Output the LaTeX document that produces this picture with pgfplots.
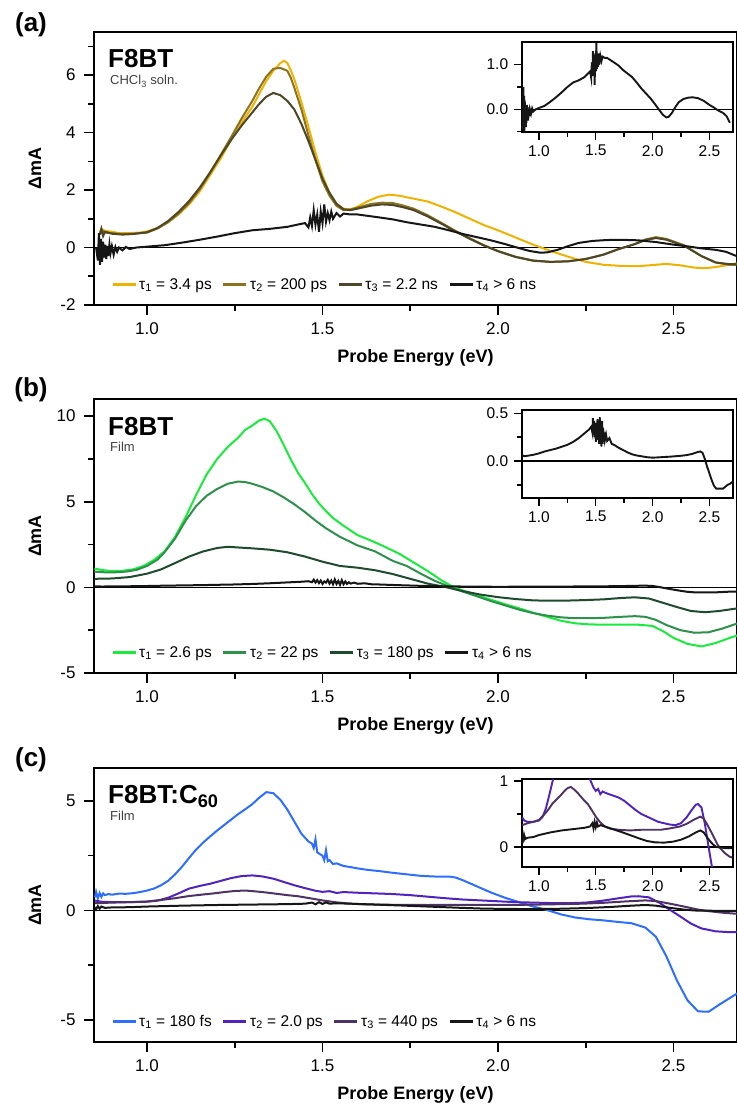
\documentclass[border=0pt]{standalone}
\usepackage{pgfplots}
\pgfplotsset{compat=1.18}
\usepackage{pgfplotstable}
\usepackage{fontspec}
\setmainfont{Liberation Sans}

\definecolor{aone}{RGB}{240,178,0}
\definecolor{atwo}{RGB}{139,116,32}
\definecolor{athree}{RGB}{78,70,40}
\definecolor{blk}{RGB}{22,22,22}
\definecolor{bone}{RGB}{25,235,60}
\definecolor{btwo}{RGB}{45,145,75}
\definecolor{bthree}{RGB}{30,75,45}
\definecolor{cone}{RGB}{45,110,255}
\definecolor{ctwo}{RGB}{80,35,190}
\definecolor{cthree}{RGB}{78,50,100}

% ---------------- panel (a) ----------------
\pgfplotstableread{
x y
0.866 0.55
0.870 0.65
0.880 0.58
0.900 0.55
0.920 0.50
0.950 0.50
0.980 0.52
1.000 0.56
1.030 0.68
1.060 0.88
1.090 1.15
1.120 1.50
1.150 1.95
1.180 2.52
1.210 3.10
1.240 3.75
1.270 4.35
1.300 4.90
1.320 5.35
1.340 5.80
1.360 6.15
1.380 6.42
1.390 6.50
1.400 6.42
1.410 6.15
1.420 5.85
1.440 5.05
1.460 4.20
1.480 3.30
1.500 2.50
1.520 1.90
1.540 1.52
1.560 1.35
1.580 1.33
1.600 1.42
1.630 1.62
1.660 1.77
1.690 1.84
1.720 1.80
1.760 1.70
1.800 1.60
1.840 1.42
1.880 1.22
1.920 1.00
1.960 0.78
2.000 0.60
2.050 0.35
2.100 0.10
2.150 -0.12
2.200 -0.32
2.250 -0.50
2.300 -0.60
2.350 -0.64
2.400 -0.65
2.450 -0.60
2.480 -0.57
2.520 -0.62
2.560 -0.70
2.590 -0.72
2.620 -0.68
2.650 -0.62
2.680 -0.55
}\Aone

\pgfplotstableread{
x y
0.866 0.50
0.870 0.62
0.880 0.52
0.900 0.50
0.930 0.47
0.960 0.48
1.000 0.52
1.030 0.66
1.060 0.88
1.090 1.18
1.120 1.55
1.150 2.02
1.180 2.60
1.210 3.22
1.240 3.85
1.270 4.50
1.300 5.10
1.320 5.55
1.340 5.95
1.360 6.22
1.380 6.25
1.400 6.15
1.410 5.90
1.420 5.55
1.440 4.80
1.460 3.90
1.480 3.05
1.500 2.30
1.520 1.80
1.540 1.45
1.560 1.30
1.580 1.32
1.610 1.42
1.640 1.52
1.670 1.56
1.700 1.55
1.730 1.46
1.760 1.35
1.800 1.12
1.840 0.85
1.880 0.57
1.920 0.32
1.960 0.08
2.000 -0.12
2.050 -0.32
2.100 -0.45
2.150 -0.50
2.200 -0.48
2.250 -0.40
2.300 -0.25
2.340 -0.07
2.390 0.12
2.420 0.28
2.450 0.36
2.480 0.30
2.530 0.08
2.580 -0.30
2.620 -0.52
2.660 -0.60
2.680 -0.60
}\Atwo

\pgfplotstableread{
x y
0.866 0.45
0.870 0.65
0.875 0.40
0.880 0.55
0.900 0.48
0.930 0.45
0.960 0.47
1.000 0.53
1.030 0.68
1.060 0.92
1.090 1.24
1.120 1.62
1.150 2.08
1.180 2.62
1.210 3.20
1.240 3.75
1.270 4.25
1.300 4.70
1.320 5.00
1.340 5.25
1.360 5.38
1.380 5.30
1.400 5.10
1.420 4.80
1.440 4.30
1.460 3.70
1.480 3.05
1.500 2.40
1.520 1.90
1.540 1.52
1.560 1.33
1.580 1.30
1.610 1.38
1.640 1.46
1.670 1.50
1.700 1.48
1.730 1.40
1.760 1.30
1.800 1.08
1.840 0.82
1.880 0.55
1.920 0.30
1.960 0.07
2.000 -0.13
2.050 -0.33
2.100 -0.46
2.150 -0.50
2.200 -0.48
2.250 -0.40
2.300 -0.25
2.340 -0.07
2.390 0.12
2.420 0.26
2.450 0.33
2.480 0.27
2.530 0.06
2.580 -0.30
2.620 -0.52
2.660 -0.58
2.680 -0.58
}\Athree

\pgfplotstableread{
x y
0.855 0.00
0.860 -0.45
0.863 0.50
0.866 -0.60
0.869 0.30
0.872 -0.50
0.875 0.20
0.878 -0.35
0.881 0.10
0.884 -0.40
0.887 0.05
0.890 -0.30
0.893 0.10
0.896 -0.20
0.900 0.05
0.905 -0.25
0.910 0.02
0.915 -0.15
0.920 0.00
0.930 -0.10
0.940 0.02
0.950 -0.05
0.970 0.00
1.000 0.03
1.050 0.08
1.100 0.17
1.150 0.27
1.200 0.38
1.250 0.50
1.300 0.60
1.350 0.65
1.400 0.72
1.430 0.80
1.450 0.85
1.460 0.70
1.465 1.05
1.470 0.75
1.475 1.30
1.480 0.80
1.485 1.15
1.490 0.55
1.495 1.25
1.500 0.85
1.505 1.50
1.510 0.90
1.515 1.20
1.520 0.95
1.525 1.25
1.530 1.00
1.540 1.20
1.550 1.08
1.560 1.18
1.580 1.15
1.600 1.15
1.630 1.10
1.660 1.05
1.700 0.98
1.740 0.88
1.780 0.80
1.820 0.72
1.860 0.60
1.900 0.47
1.940 0.36
1.980 0.25
2.020 0.12
2.060 -0.02
2.090 -0.12
2.120 -0.18
2.140 -0.17
2.170 -0.08
2.200 0.05
2.230 0.16
2.270 0.23
2.310 0.26
2.350 0.27
2.400 0.25
2.450 0.19
2.500 0.10
2.540 0.04
2.580 -0.03
2.620 -0.08
2.650 -0.15
2.670 -0.25
2.680 -0.30
}\Afour

% ---------------- panel (b) ----------------
\pgfplotstableread{
x y
0.850 1.10
0.870 1.02
0.900 0.95
0.930 0.97
0.960 1.05
0.990 1.25
1.020 1.60
1.050 2.10
1.080 2.95
1.110 4.10
1.140 5.40
1.170 6.60
1.200 7.50
1.230 8.20
1.260 8.75
1.280 9.20
1.300 9.45
1.320 9.75
1.335 9.85
1.350 9.70
1.370 9.10
1.390 8.30
1.410 7.45
1.430 6.70
1.450 6.10
1.470 5.45
1.490 4.90
1.510 4.45
1.530 4.05
1.560 3.60
1.600 3.05
1.640 2.72
1.680 2.35
1.720 1.95
1.760 1.45
1.800 0.95
1.840 0.40
1.870 0.05
1.900 -0.18
1.940 -0.45
1.980 -0.72
2.020 -0.98
2.060 -1.22
2.100 -1.48
2.140 -1.72
2.180 -1.95
2.220 -2.10
2.260 -2.16
2.300 -2.18
2.350 -2.18
2.400 -2.18
2.440 -2.25
2.470 -2.55
2.500 -2.95
2.540 -3.30
2.580 -3.45
2.620 -3.25
2.660 -2.95
2.690 -2.75
}\Bone

\pgfplotstableread{
x y
0.850 0.92
0.880 0.88
0.910 0.88
0.940 0.92
0.970 1.02
1.000 1.25
1.030 1.62
1.050 2.05
1.080 2.85
1.110 3.90
1.140 4.75
1.170 5.35
1.200 5.75
1.230 6.05
1.260 6.18
1.280 6.15
1.300 6.05
1.330 5.85
1.360 5.60
1.390 5.25
1.420 4.85
1.450 4.40
1.480 3.90
1.510 3.45
1.550 2.95
1.600 2.45
1.650 2.10
1.700 1.55
1.740 1.25
1.780 0.80
1.820 0.38
1.860 0.05
1.900 -0.25
1.940 -0.52
1.980 -0.80
2.020 -1.05
2.060 -1.30
2.100 -1.50
2.140 -1.65
2.180 -1.75
2.220 -1.80
2.260 -1.80
2.300 -1.78
2.350 -1.72
2.390 -1.68
2.420 -1.72
2.450 -1.90
2.480 -2.20
2.520 -2.50
2.560 -2.65
2.600 -2.62
2.640 -2.40
2.690 -2.05
}\Btwo

\pgfplotstableread{
x y
0.850 0.50
0.900 0.52
0.950 0.60
1.000 0.80
1.040 1.05
1.080 1.42
1.120 1.80
1.160 2.10
1.200 2.30
1.230 2.37
1.260 2.33
1.300 2.28
1.350 2.20
1.400 2.05
1.450 1.80
1.500 1.50
1.550 1.25
1.600 1.15
1.650 1.00
1.700 0.78
1.750 0.50
1.800 0.22
1.850 0.02
1.900 -0.22
1.950 -0.42
2.000 -0.57
2.050 -0.68
2.100 -0.76
2.150 -0.78
2.200 -0.77
2.250 -0.74
2.300 -0.70
2.350 -0.62
2.390 -0.58
2.430 -0.65
2.470 -0.90
2.510 -1.15
2.550 -1.38
2.590 -1.45
2.630 -1.38
2.690 -1.20
}\Bthree

\pgfplotstableread{
x y
0.850 0.065
0.870 0.050
0.900 0.055
0.950 0.065
1.000 0.080
1.050 0.100
1.100 0.115
1.150 0.130
1.200 0.150
1.250 0.170
1.300 0.200
1.350 0.240
1.400 0.290
1.440 0.330
1.460 0.360
1.470 0.300
1.475 0.450
1.480 0.280
1.485 0.420
1.490 0.250
1.495 0.400
1.500 0.200
1.505 0.350
1.510 0.280
1.515 0.440
1.520 0.220
1.525 0.400
1.530 0.180
1.535 0.460
1.540 0.200
1.545 0.380
1.550 0.150
1.555 0.420
1.560 0.180
1.565 0.350
1.570 0.200
1.575 0.300
1.580 0.220
1.590 0.280
1.600 0.210
1.620 0.240
1.640 0.180
1.660 0.170
1.700 0.140
1.740 0.115
1.780 0.090
1.820 0.070
1.860 0.058
1.900 0.050
1.950 0.040
2.000 0.035
2.050 0.038
2.100 0.042
2.150 0.045
2.200 0.050
2.250 0.055
2.300 0.062
2.350 0.075
2.400 0.095
2.420 0.100
2.440 0.085
2.460 0.020
2.480 -0.060
2.500 -0.130
2.520 -0.200
2.540 -0.260
2.560 -0.290
2.580 -0.290
2.600 -0.290
2.620 -0.290
2.640 -0.270
2.660 -0.250
2.680 -0.240
2.700 -0.220
}\Bfour

% ---------------- panel (c) ----------------
\pgfplotstableread{
x y
0.852 0.60
0.855 0.85
0.860 0.55
0.865 0.80
0.870 0.62
0.875 0.78
0.880 0.70
0.890 0.75
0.900 0.72
0.920 0.77
0.940 0.76
0.960 0.79
0.980 0.84
1.000 0.91
1.020 1.00
1.040 1.15
1.060 1.35
1.080 1.65
1.100 2.00
1.120 2.40
1.140 2.78
1.160 3.10
1.180 3.38
1.200 3.65
1.220 3.90
1.240 4.15
1.260 4.40
1.280 4.62
1.300 4.85
1.320 5.15
1.340 5.40
1.360 5.35
1.380 5.05
1.400 4.60
1.420 4.05
1.440 3.50
1.460 3.15
1.470 3.05
1.475 2.85
1.480 3.25
1.485 2.65
1.490 2.60
1.500 2.50
1.505 2.30
1.510 2.75
1.515 2.25
1.520 2.30
1.530 2.12
1.540 2.15
1.560 2.03
1.580 1.98
1.600 1.92
1.630 1.85
1.660 1.80
1.700 1.72
1.740 1.65
1.780 1.58
1.820 1.55
1.860 1.55
1.880 1.50
1.900 1.38
1.940 1.10
1.980 0.82
2.020 0.58
2.060 0.38
2.100 0.18
2.140 0.02
2.180 -0.18
2.220 -0.32
2.260 -0.40
2.300 -0.45
2.340 -0.52
2.380 -0.58
2.420 -0.78
2.450 -1.20
2.480 -2.10
2.510 -3.20
2.540 -4.10
2.570 -4.60
2.600 -4.62
2.630 -4.30
2.660 -4.00
2.690 -3.70
}\Cone

\pgfplotstableread{
x y
0.852 0.45
0.870 0.40
0.900 0.38
0.950 0.38
1.000 0.40
1.030 0.45
1.060 0.58
1.090 0.78
1.120 1.00
1.150 1.12
1.180 1.22
1.210 1.35
1.240 1.48
1.270 1.57
1.300 1.60
1.330 1.55
1.360 1.45
1.390 1.30
1.420 1.15
1.450 1.02
1.480 0.90
1.500 0.85
1.520 0.88
1.540 0.80
1.560 0.84
1.600 0.81
1.650 0.78
1.700 0.75
1.750 0.70
1.800 0.63
1.850 0.56
1.900 0.50
1.950 0.46
2.000 0.42
2.050 0.38
2.100 0.36
2.150 0.34
2.200 0.33
2.250 0.36
2.300 0.45
2.340 0.55
2.380 0.64
2.400 0.65
2.430 0.60
2.460 0.35
2.490 0.03
2.520 -0.28
2.550 -0.60
2.580 -0.82
2.620 -0.95
2.660 -0.99
2.700 -0.99
}\Ctwo

\pgfplotstableread{
x y
0.852 0.33
0.900 0.36
0.950 0.38
1.000 0.41
1.040 0.48
1.080 0.56
1.120 0.66
1.160 0.73
1.190 0.78
1.220 0.84
1.250 0.89
1.280 0.91
1.310 0.87
1.340 0.82
1.370 0.76
1.400 0.70
1.430 0.65
1.460 0.57
1.500 0.46
1.540 0.37
1.580 0.31
1.620 0.28
1.700 0.26
1.800 0.25
1.900 0.26
2.000 0.26
2.070 0.26
2.150 0.28
2.240 0.31
2.300 0.35
2.360 0.41
2.420 0.46
2.450 0.43
2.490 0.31
2.530 0.18
2.570 0.04
2.600 -0.03
2.640 -0.10
2.680 -0.15
2.700 -0.16
}\Cthree

\pgfplotstableread{
x y
0.852 0.16
0.855 0.05
0.860 0.20
0.865 0.08
0.870 0.18
0.880 0.12
0.900 0.14
0.950 0.15
1.000 0.18
1.100 0.22
1.200 0.25
1.300 0.27
1.400 0.29
1.450 0.31
1.470 0.36
1.480 0.28
1.490 0.38
1.500 0.30
1.510 0.37
1.520 0.31
1.540 0.33
1.580 0.31
1.650 0.27
1.720 0.23
1.800 0.18
1.880 0.13
1.950 0.09
2.020 0.07
2.100 0.065
2.180 0.08
2.250 0.11
2.320 0.16
2.380 0.22
2.420 0.25
2.450 0.22
2.490 0.12
2.530 0.04
2.560 0.00
2.600 -0.01
2.650 -0.02
2.700 -0.02
}\Cfour

\pgfplotsset{
  mainax/.style={
    scale only axis, width=643pt, anchor=north west,
    xmin=0.849, xmax=2.681,
    axis line style={line width=2pt},
    every tick/.style={line width=1.6pt, black},
    tick align=outside, tick pos=left,
    xtick={1.0,1.5,2.0,2.5}, xticklabels={1.0,1.5,2.0,2.5},
    minor xtick={1.25,1.75,2.25},
    major tick length=10pt, minor tick length=6pt,
    ticklabel style={font=\fontsize{17}{17}\selectfont},
    xticklabel style={yshift=-4pt},
    yticklabel style={xshift=-5pt},
    xlabel={Probe Energy (eV)}, ylabel={ΔmA},
    label style={font=\fontsize{18}{18}\selectfont\bfseries},
    xlabel style={at={(axis description cs:0.5,-0.194)}, anchor=center},
    ylabel style={at={(axis description cs:-0.092,0.5)}, anchor=center},
    legend style={at={(0.022,0.075)}, anchor=west, draw=none, fill=none,
      font=\fontsize{15.5}{15.5}\selectfont, legend columns=4,
      /tikz/every even column/.append style={column sep=8pt},
      nodes={inner xsep=2.5pt, inner ysep=1pt}},
    legend image code/.code={\draw[#1, line width=2.4pt] (0pt,0pt) -- (23pt,0pt);},
    every axis plot/.append style={line width=2pt},
  },
  inax/.style={
    scale only axis, width=211pt, anchor=north west,
    xmin=0.848, xmax=2.705,
    axis background/.style={fill=white},
    axis line style={line width=1.8pt},
    every tick/.style={line width=1.4pt, black},
    tick align=outside, tick pos=left,
    xtick={1.0,1.5,2.0,2.5}, xticklabels={1.0,1.5,2.0,2.5},
    minor xtick={1.25,1.75,2.25},
    major tick length=8pt, minor tick length=5pt,
    ticklabel style={font=\fontsize{15.5}{15.5}\selectfont},
    xticklabel style={yshift=-2pt},
    yticklabel style={xshift=-2pt},
    every axis plot/.append style={line width=1.9pt},
  },
}

\begin{document}
\begin{tikzpicture}
\path[use as bounding box] (0pt,0pt) rectangle (736pt,-1107pt);

% ===== (a) =====
\begin{axis}[mainax, at={(94pt,-32pt)}, height=273pt,
  ymin=-2, ymax=7.5, ytick={-2,0,2,4,6}, yticklabels={-2,0,2,4,6},
  minor ytick={-1,1,3,5,7}]
\addplot[black, line width=1.6pt, forget plot] coordinates {(0.8,0) (2.8,0)};
\addplot[aone] table {\Aone};
\addplot[atwo] table {\Atwo};
\addplot[athree] table {\Athree};
\addplot[blk] table {\Afour};
\legend{τ\textsubscript{1} = 3.4 ps, τ\textsubscript{2} = 200 ps, τ\textsubscript{3} = 2.2 ns, τ\textsubscript{4} > 6 ns}
\end{axis}
\begin{axis}[inax, at={(521.7pt,-42.3pt)}, height=89.4pt,
  ymin=-0.5, ymax=1.5, ytick={0,1}, yticklabels={0.0,1.0}, minor ytick={-0.5,0.5}]
\addplot[black, line width=1.5pt] coordinates {(0.8,0) (2.8,0)};
\addplot[blk] table {\Afour};
\end{axis}

% ===== (b) =====
\begin{axis}[mainax, at={(94pt,-399pt)}, height=274pt,
  ymin=-5, ymax=11, ytick={-5,0,5,10}, yticklabels={-5,0,5,10},
  minor ytick={-2.5,2.5,7.5}]
\addplot[black, line width=1.6pt, forget plot] coordinates {(0.8,0) (2.8,0)};
\addplot[bone] table {\Bone};
\addplot[btwo] table {\Btwo};
\addplot[bthree] table {\Bthree};
\addplot[blk] table {\Bfour};
\legend{τ\textsubscript{1} = 2.6 ps, τ\textsubscript{2} = 22 ps, τ\textsubscript{3} = 180 ps, τ\textsubscript{4} > 6 ns}
\end{axis}
\begin{axis}[inax, at={(521.7pt,-410pt)}, height=87.7pt,
  ymin=-0.385, ymax=0.535, ytick={0,0.5}, yticklabels={0.0,0.5}, minor ytick={-0.25,0.25}]
\addplot[black, line width=1.5pt] coordinates {(0.8,0) (2.8,0)};
\addplot[blk] table {\Bfour};
\end{axis}

% ===== (c) =====
\begin{axis}[mainax, at={(94pt,-768pt)}, height=274pt,
  ymin=-6, ymax=6.5, ytick={-5,0,5}, yticklabels={-5,0,5},
  minor ytick={-2.5,2.5}]
\addplot[black, line width=1.6pt, forget plot] coordinates {(0.8,0) (2.8,0)};
\addplot[cone] table {\Cone};
\addplot[ctwo] table {\Ctwo};
\addplot[cthree] table {\Cthree};
\addplot[blk] table {\Cfour};
\legend{τ\textsubscript{1} = 180 fs, τ\textsubscript{2} = 2.0 ps, τ\textsubscript{3} = 440 ps, τ\textsubscript{4} > 6 ns}
\end{axis}
\begin{axis}[inax, at={(521.7pt,-779pt)}, height=87.7pt,
  ymin=-0.3, ymax=1.03, ytick={0,1}, yticklabels={0,1}, minor ytick={0.5}]
\addplot[black, line width=1.5pt] coordinates {(0.8,0) (2.8,0)};
\addplot[ctwo] table {\Ctwo};
\addplot[cthree] table {\Cthree};
\addplot[blk] table {\Cfour};
\end{axis}

% ===== texts =====
\node[font=\fontsize{26}{26}\selectfont\bfseries] at (31pt,-25pt) {(a)};
\node[font=\fontsize{26}{26}\selectfont\bfseries] at (31pt,-390pt) {(b)};
\node[font=\fontsize{26}{26}\selectfont\bfseries] at (31pt,-760pt) {(c)};

\node[anchor=base west, inner sep=0pt, font=\fontsize{26}{26}\selectfont\bfseries] at (108pt,-68pt) {F8BT};
\node[anchor=base west, inner sep=0pt, font=\fontsize{13}{13}\selectfont, text=black!75] at (110pt,-85pt) {CHCl\textsubscript{3} soln.};
\node[anchor=base west, inner sep=0pt, font=\fontsize{26}{26}\selectfont\bfseries] at (108pt,-435pt) {F8BT};
\node[anchor=base west, inner sep=0pt, font=\fontsize{13}{13}\selectfont, text=black!75] at (110pt,-451pt) {Film};
\node[anchor=base west, inner sep=0pt, font=\fontsize{26}{26}\selectfont\bfseries] at (108pt,-803pt) {F8BT:C\textsubscript{60}};
\node[anchor=base west, inner sep=0pt, font=\fontsize{13}{13}\selectfont, text=black!75] at (110pt,-820pt) {Film};
\end{tikzpicture}
\end{document}
